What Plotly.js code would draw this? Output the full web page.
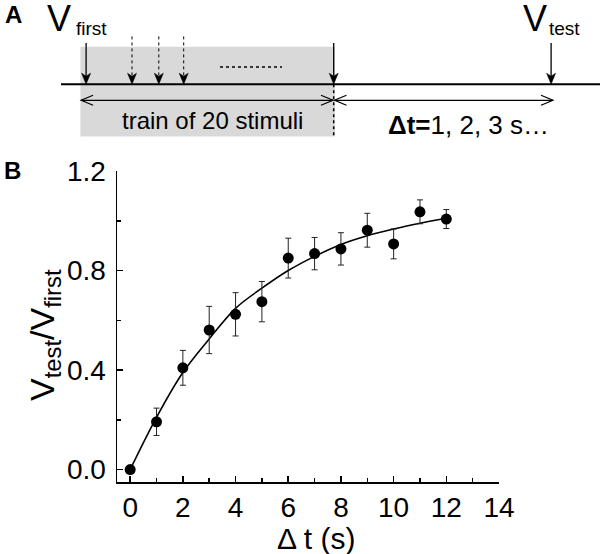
<!DOCTYPE html>
<html>
<head>
<meta charset="utf-8">
<script src="https://cdn.plot.ly/plotly-3.0.1.min.js"></script>
<style>
  html, body { margin: 0; padding: 0; background: #fff; }
  #plot { width: 600px; height: 554px; }
</style>
</head>
<body>
<div id="plot"></div>
<script>
// Panel B data
const dt = [0, 1, 2, 3, 4, 5, 6, 7, 8, 9, 10, 11, 12];
const ratio = [0, 0.192, 0.409, 0.561, 0.624, 0.675, 0.850, 0.868, 0.887, 0.962, 0.907, 1.036, 1.007];
const sem = [0, 0.055, 0.070, 0.095, 0.087, 0.081, 0.080, 0.065, 0.065, 0.068, 0.060, 0.048, 0.038];

// fitted recovery curve, read at each second
const fitT = [0, 1, 2, 3, 4, 5, 6, 7, 8, 9, 10, 11, 12];
const fitY = [0, 0.21, 0.39, 0.525, 0.648, 0.729, 0.80, 0.857, 0.905, 0.94, 0.967, 0.99, 1.01];

const W = 600, H = 554;
const FONT = 'Liberation Sans, Arial, sans-serif';

// pixel -> paper helpers for the panel A sketch
const X = p => p / W;
const Y = p => 1 - p / H;
const path = pts => pts.map((q, i) => (i ? 'L' : 'M') + X(q[0]) + ',' + Y(q[1])).join(' ');

const lineY = 84.2;
const shapes = [];

// grey box behind the train
shapes.push({type: 'rect', xref: 'paper', yref: 'paper',
  x0: X(80.4), x1: X(335), y0: Y(46.7), y1: Y(136.6),
  fillcolor: '#d9d9d9', line: {width: 0}});

// time axis of the protocol
shapes.push({type: 'line', xref: 'paper', yref: 'paper',
  x0: X(61), x1: X(600), y0: Y(lineY), y1: Y(lineY),
  line: {color: '#000', width: 2}});

// down arrows (stimuli)
function downArrow(x, top, dotted) {
  shapes.push({type: 'line', xref: 'paper', yref: 'paper',
    x0: X(x), x1: X(x), y0: Y(top), y1: Y(lineY - 6),
    line: {color: '#000', width: dotted ? 1 : 1.3, dash: dotted ? 'dot' : 'solid'}});
  shapes.push({type: 'path', xref: 'paper', yref: 'paper',
    path: path([[x - 4.5, lineY - 11], [x, lineY], [x + 4.5, lineY - 11], [x, lineY - 8]]) + ' Z',
    fillcolor: '#000', line: {color: '#000', width: 0.5}});
}
downArrow(86.1, 42.9, false);
downArrow(333.7, 42.9, false);
downArrow(551.1, 42.9, false);
downArrow(132, 36.4, true);
downArrow(158.8, 36.4, true);
downArrow(183.7, 36.4, true);

// dotted "..." between the stimuli
shapes.push({type: 'line', xref: 'paper', yref: 'paper',
  x0: X(220), x1: X(282), y0: Y(67), y1: Y(67),
  line: {color: '#000', width: 1.5, dash: 'dot'}});

// dotted end marker of the train
shapes.push({type: 'line', xref: 'paper', yref: 'paper',
  x0: X(333.7), x1: X(333.7), y0: Y(lineY), y1: Y(136.6),
  line: {color: '#000', width: 1.5, dash: 'dot'}});

// double arrows
const arrY = 100.3;
function dblArrow(a, b) {
  shapes.push({type: 'line', xref: 'paper', yref: 'paper',
    x0: X(a), x1: X(b), y0: Y(arrY), y1: Y(arrY),
    line: {color: '#000', width: 1.2}});
  shapes.push({type: 'path', xref: 'paper', yref: 'paper',
    path: path([[a + 12, arrY - 5], [a, arrY], [a + 12, arrY + 5]]),
    line: {color: '#000', width: 1.2}});
  shapes.push({type: 'path', xref: 'paper', yref: 'paper',
    path: path([[b - 12, arrY - 5], [b, arrY], [b - 12, arrY + 5]]),
    line: {color: '#000', width: 1.2}});
}
dblArrow(81.1, 333);
dblArrow(334.5, 553);

function label(text, x, y, size, extra) {
  return Object.assign({text: text, xref: 'paper', yref: 'paper', x: X(x), y: Y(y),
    showarrow: false, xanchor: 'center', yanchor: 'middle',
    font: {family: FONT, size: size, color: '#000'}}, extra || {});
}

const annotations = [
  label('<b>A</b>', 13, 14, 24),
  label('V', 59, 18.5, 36),
  label('first', 74, 29, 19, {xanchor: 'left'}),
  label('V', 535, 18.5, 36),
  label('test', 547, 29, 19, {xanchor: 'left'}),
  label('train of 20 stimuli', 212.6, 120.5, 24),
  label('<b>Δt=</b>1, 2, 3 s…', 468, 125, 26),
  label('<b>B</b>', 12, 171, 24),
  label('V<sub>test</sub>/V<sub>first</sub>', 44, 335, 34, {textangle: -90}),
  label('Δ t (s)', 316, 538, 30)
];

const fit = {
  x: fitT, y: fitY, type: 'scatter', mode: 'lines',
  line: {color: '#000', width: 1.6, shape: 'spline'},
  hoverinfo: 'skip', showlegend: false
};

const pts = {
  x: dt, y: ratio, type: 'scatter', mode: 'markers',
  marker: {color: '#000', size: 11},
  error_y: {type: 'data', array: sem, visible: true, color: '#222', thickness: 1, width: 3},
  showlegend: false
};

const axFont = {family: FONT, size: 28, color: '#000'};

const layout = {
  width: W, height: H,
  margin: {l: 0, r: 0, t: 0, b: 0},
  paper_bgcolor: '#fff', plot_bgcolor: 'rgba(0,0,0,0)',
  showlegend: false,
  xaxis: {
    domain: [117 / W, 499 / W], range: [-0.5, 14],
    showline: true, linecolor: '#000', linewidth: 1.5,
    ticks: 'inside', ticklen: 6, tickwidth: 1.5, tickcolor: '#000',
    tick0: 0, dtick: 2,
    minor: {ticks: 'inside', dtick: 1, ticklen: 4, tickwidth: 1.5, tickcolor: '#000'},
    showgrid: false, zeroline: false, tickfont: axFont, ticklabelstandoff: 0
  },
  yaxis: {
    domain: [72 / H, 383 / H], range: [-0.05, 1.2001],
    showline: true, linecolor: '#000', linewidth: 1.5,
    ticks: 'inside', ticklen: 6, tickwidth: 1.5, tickcolor: '#000',
    tick0: 0, dtick: 0.4, tickformat: '.1f',
    minor: {ticks: 'inside', dtick: 0.2, ticklen: 4, tickwidth: 1.5, tickcolor: '#000'},
    showgrid: false, zeroline: false, tickfont: axFont, ticklabelstandoff: 4
  },
  shapes: shapes,
  annotations: annotations
};

Plotly.newPlot('plot', [fit, pts], layout, {displayModeBar: false, staticPlot: true});
</script>
</body>
</html>
